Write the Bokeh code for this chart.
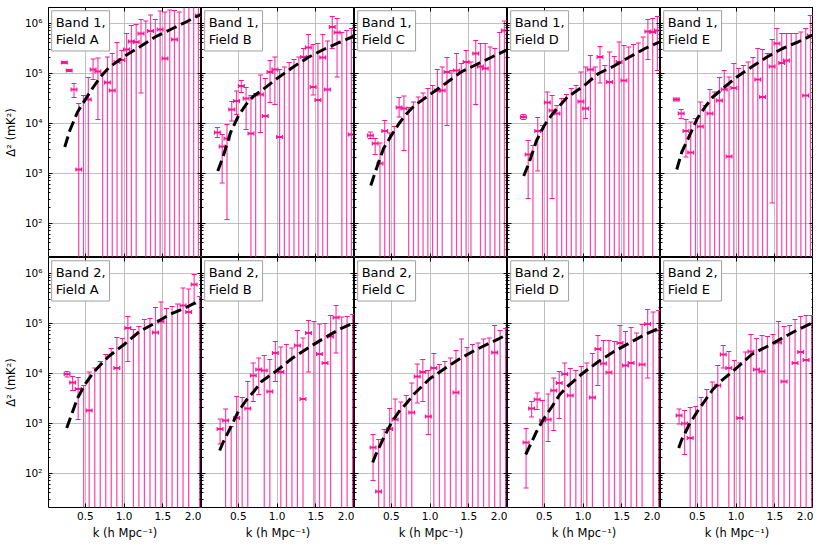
import numpy as np
from bokeh.plotting import figure
from bokeh.layouts import column, row
from bokeh.models import (Range1d, LogAxis, LinearAxis, FixedTicker, Label,
                          CustomJSTickFormatter, PrintfTickFormatter)
from bokeh.embed import file_html
from bokeh.resources import INLINE

FONT = "DejaVu Sans"
PINK = "#ff1493"

FIELDS = ["A", "B", "C", "D", "E"]

# k bin centres (h/Mpc)
K_BAND1 = [0.230, 0.292, 0.354, 0.415, 0.477, 0.539, 0.601, 0.663, 0.724, 0.786,
           0.848, 0.910, 0.972, 1.033, 1.095, 1.157, 1.219, 1.281, 1.342, 1.404,
           1.466, 1.528, 1.590, 1.651, 1.713, 1.775, 1.837, 1.899, 1.960]
K_BAND2 = [0.265, 0.336, 0.408, 0.479, 0.550, 0.622, 0.693, 0.764, 0.835, 0.907,
           0.978, 1.049, 1.121, 1.192, 1.263, 1.335, 1.406, 1.477, 1.548, 1.620,
           1.691, 1.762, 1.834, 1.905, 1.976]
K_ERR = 0.037

# model curve sample points
MODEL_K_BAND1 = [0.235, 0.3, 0.4, 0.5, 0.6, 0.7, 0.8, 1.0, 1.2, 1.4, 1.6, 1.8, 2.0]
MODEL_K_BAND2 = [0.26, 0.3, 0.4, 0.5, 0.6, 0.7, 0.8, 1.0, 1.2, 1.4, 1.6, 1.8, 2.0]

# log10(Delta^2 / mK^2): centre, upper, lower (None = off the bottom / not drawn)
B1_A_C = [5.21, 5.05, 4.67, 3.07, None, 4.47, 5.07, 5.03, None, 4.81, 4.65, 5.22, 5.26, 5.47, 5.63,
          5.62, 5.79, None, 5.84, None, 5.87, 5.29, None, 5.67, None, None, None, None, 6.15]
B1_A_HI = [5.23, 5.07, 4.79, 4.39, 4.55, 4.91, 5.28, 5.30, 4.99, 5.32, 5.39, 5.61, 5.45, 5.79, 5.95,
           5.97, 6.07, 6.04, 6.16, 6.07, 6.24, 6.22, 6.26, 6.25, 6.22, 6.40, 6.40, 6.40, 6.40]
B1_A_LO = [5.19, 5.03, 4.51, None, None, None, 4.87, 4.07, None, None, None, None, None, None, None,
           None, 4.60, None, None, None, None, None, None, None, None, None, None, None, None]
B1_A_M = [3.52, 3.85, 4.22, 4.47, 4.71, 4.93, 5.10, 5.33, 5.52, 5.72, 5.87, 6.02, 6.18]

B1_B_C = [3.81, 3.53, 3.69, 4.27, 4.44, 4.74, 4.49, 3.79, None, 4.57, 4.14, 5.02, 5.07, 3.72, None,
          None, None, None, 5.32, 5.51, 4.72, 4.46, 5.31, 4.67, 5.92, 5.81, None, None, 3.77]
B1_B_HI = [3.91, 3.77, 3.97, 4.43, 4.64, 4.85, 4.71, 4.55, 4.59, 4.96, 4.89, 5.25, 5.32, 5.07, 5.12,
           5.21, 5.27, 5.32, 5.49, 5.77, 5.57, 5.59, 5.77, 5.64, 6.13, 6.09, 5.81, 5.85, 5.89]
B1_B_LO = [3.71, 2.80, 2.07, 4.04, 4.17, 4.61, 3.87, None, None, 3.81, None, 4.41, 4.37, None, None,
           None, None, None, None, None, 4.56, None, None, None, 5.49, 4.92, None, None, None]
B1_B_M = [3.04, 3.31, 3.81, 4.14, 4.37, 4.54, 4.65, 4.89, 5.11, 5.31, 5.47, 5.61, 5.74]

B1_C_C = [3.75, 3.59, 3.19, 3.84, None, None, 4.31, 4.29, None, None, None, None, None, None, 4.65,
          4.65, 5.02, None, 5.05, None, 5.22, None, 5.39, 5.13, 5.09, None, None, None, 5.85]
B1_C_HI = [3.82, 3.69, 3.60, 4.05, 3.80, 3.93, 4.51, 4.54, 4.31, 4.42, 4.52, 4.60, 4.69, 4.75, 5.07,
           5.12, 5.31, 5.05, 5.39, 5.19, 5.45, 5.22, 5.65, 5.59, 5.59, 5.52, 5.49, 5.81, 6.04]
B1_C_LO = [3.69, 3.37, None, None, None, None, 4.12, 3.45, None, None, None, None, None, None, None,
           None, 3.95, None, None, None, None, None, 4.37, None, None, None, None, None, None]
B1_C_M = [2.75, 3.05, 3.49, 3.75, 3.99, 4.19, 4.35, 4.57, 4.79, 5.02, 5.17, 5.32, 5.47]

B1_D_C = [4.12, 3.37, None, 3.84, None, 4.41, 4.25, 4.19, None, None, None, None, 4.43, 4.29, 5.07,
          None, 5.32, None, 4.82, None, 5.22, 4.85, None, None, None, None, 5.83, 5.82, 5.85]
B1_D_HI = [4.17, 3.65, 3.55, 4.11, 3.95, 4.62, 4.55, 4.35, 4.49, 4.57, 4.69, 4.75, 5.02, 5.12, 5.35,
           5.12, 5.53, 5.15, 5.42, 5.33, 5.62, 5.55, 5.52, 5.57, 5.60, 5.72, 6.07, 6.09, 6.13]
B1_D_LO = [4.07, 2.49, None, 3.04, None, None, 2.49, None, None, None, None, None, None, 4.09, None,
           None, 4.80, None, None, None, None, None, None, None, None, None, 5.27, None, 5.05]
B1_D_M = [2.94, 3.19, 3.65, 3.95, 4.17, 4.35, 4.52, 4.73, 4.99, 5.14, 5.32, 5.49, 5.63]

B1_E_C = [4.47, 4.19, 3.84, 3.41, None, 3.93, None, 4.19, None, 4.45, 4.67, 3.33, 4.70, None, None,
          None, None, 4.87, 4.52, None, 5.13, 5.59, 5.20, 5.25, None, None, None, 4.55, 5.75]
B1_E_HI = [4.50, 4.27, 4.07, 4.02, 4.09, 4.42, 4.35, 4.67, 4.62, 4.91, 5.05, 4.92, 5.19, 5.09, 5.15,
           5.22, 5.31, 5.49, 5.47, 5.39, 5.67, 5.89, 5.79, 5.79, 5.79, 5.79, 5.82, 5.89, 6.15]
B1_E_LO = [4.44, 4.09, 3.32, None, None, None, None, None, None, None, None, None, None, None, None,
           None, None, None, None, None, 2.40, None, None, None, None, None, None, None, None]
B1_E_M = [3.07, 3.42, 3.75, 4.09, 4.32, 4.52, 4.65, 4.91, 5.12, 5.32, 5.49, 5.62, 5.77]

B2_A_C = [3.98, 3.81, 3.68, None, 3.25, None, None, None, None, 4.10, None, 4.90, None, None, None,
          None, 4.81, 5.03, None, None, None, 5.35, 5.22, 5.77, None]
B2_A_HI = [4.03, 3.93, 3.91, 3.75, 4.02, 4.10, 4.23, 4.37, 4.49, 4.71, 4.69, 5.13, 4.87, 4.93, 5.07,
           5.09, 5.31, 5.42, 5.29, 5.33, 5.38, 5.70, 5.68, 5.97, 5.53]
B2_A_LO = [3.92, 3.65, 3.07, None, None, None, None, None, None, None, None, 4.23, None, None, None,
           None, None, None, None, None, None, None, None, 5.38, None]
B2_A_M = [2.90, 3.07, 3.50, 3.78, 4.00, 4.17, 4.33, 4.57, 4.83, 5.00, 5.18, 5.31, 5.47]

B2_B_C = [2.88, 3.05, None, 3.10, None, 3.29, 3.95, 4.07, 4.05, 3.63, 4.40, 4.02, None, None, 4.55,
          3.48, 4.80, None, 4.38, 4.20, 4.73, 5.11, None, None, None]
B2_B_HI = [3.08, 3.28, 2.93, 3.53, 3.51, 3.83, 4.20, 4.30, 4.35, 4.27, 4.63, 4.52, 4.57, 4.50, 4.85,
           4.70, 5.05, 5.03, 4.98, 4.99, 5.15, 5.35, 5.12, 5.13, 5.17]
B2_B_LO = [2.58, None, None, None, None, None, 3.43, 3.57, None, None, 3.83, None, None, None, None,
           None, 4.02, None, None, None, None, 4.40, None, None, None]
B2_B_M = [2.45, 2.60, 2.91, 3.23, 3.45, 3.63, 3.83, 4.05, 4.30, 4.50, 4.69, 4.87, 5.01]

B2_C_C = [2.51, 1.63, None, 2.88, 3.07, None, None, 3.21, 3.93, 4.02, 3.13, 4.10, None, None, None,
          3.61, None, None, None, None, None, None, 4.41, None, None]
B2_C_HI = [2.77, 2.67, 2.87, 3.29, 3.48, 3.42, 3.55, 3.80, 4.18, 4.27, 4.05, 4.39, 4.17, 4.23, 4.30,
           4.45, 4.68, 4.51, 4.57, 4.60, 4.68, 4.70, 4.95, 4.85, 4.89]
B2_C_LO = [1.85, None, None, None, None, None, None, None, 3.40, 3.43, 2.77, None, None, None, None,
           None, None, None, None, None, None, None, None, None, None]
B2_C_M = [2.21, 2.37, 2.70, 3.00, 3.23, 3.40, 3.59, 3.89, 4.10, 4.30, 4.47, 4.62, 4.77]

B2_D_C = [2.61, 3.29, 3.47, 3.05, 3.07, 3.65, 3.80, 3.98, 3.55, None, None, None, 3.51, 4.48, 4.19,
          4.01, None, 4.60, 4.15, 4.20, None, 4.17, 4.98, None, 4.85]
B2_D_HI = [2.89, 3.43, 3.60, 3.45, 3.58, 3.90, 4.03, 4.20, 4.09, 4.05, 4.13, 4.20, 4.39, 4.75, 4.65,
           4.65, 4.63, 4.95, 4.83, 4.91, 4.80, 4.97, 5.27, 5.22, 5.25]
B2_D_LO = [1.70, 3.12, 3.27, None, 2.63, 2.85, 3.09, None, None, None, None, None, None, 3.75, None,
           None, None, None, None, None, None, None, 3.90, None, None]
B2_D_M = [2.37, 2.50, 2.83, 3.10, 3.33, 3.57, 3.73, 4.00, 4.23, 4.43, 4.60, 4.77, 4.91]

B2_E_C = [3.15, 2.99, 2.70, None, None, None, None, 3.75, 4.37, 4.10, None, 3.10, None, 4.43, 4.07,
          4.03, None, None, 4.61, 3.83, None, 4.20, 4.42, 4.26, None]
B2_E_HI = [3.28, 3.25, 3.31, 3.33, 3.51, 3.67, 3.82, 4.15, 4.55, 4.43, 4.25, 4.20, 4.42, 4.77, 4.69,
           4.75, 4.73, 4.77, 5.03, 4.93, 4.95, 5.07, 5.13, 5.15, 5.15]
B2_E_LO = [2.98, 2.37, None, None, None, None, None, None, 4.10, None, None, None, None, None, None,
           None, None, None, None, None, None, None, None, None, None]
B2_E_M = [2.50, 2.67, 2.98, 3.23, 3.45, 3.67, 3.83, 4.09, 4.37, 4.53, 4.70, 4.87, 5.01]

Y_TICKS = [1e2, 1e3, 1e4, 1e5, 1e6]
Y_TICK_LABELS = ["10²", "10³", "10⁴", "10⁵", "10⁶"]
X_TICKS = [0.5, 1.0, 1.5, 2.0]
Y_LOG_MIN, Y_LOG_MAX = 1.31, 6.31
Y_FLOOR = 1.0  # lower end for bars that run off the bottom

PANELS = {
    ("1", "A"): (B1_A_C, B1_A_HI, B1_A_LO, B1_A_M),
    ("1", "B"): (B1_B_C, B1_B_HI, B1_B_LO, B1_B_M),
    ("1", "C"): (B1_C_C, B1_C_HI, B1_C_LO, B1_C_M),
    ("1", "D"): (B1_D_C, B1_D_HI, B1_D_LO, B1_D_M),
    ("1", "E"): (B1_E_C, B1_E_HI, B1_E_LO, B1_E_M),
    ("2", "A"): (B2_A_C, B2_A_HI, B2_A_LO, B2_A_M),
    ("2", "B"): (B2_B_C, B2_B_HI, B2_B_LO, B2_B_M),
    ("2", "C"): (B2_C_C, B2_C_HI, B2_C_LO, B2_C_M),
    ("2", "D"): (B2_D_C, B2_D_HI, B2_D_LO, B2_D_M),
    ("2", "E"): (B2_E_C, B2_E_HI, B2_E_LO, B2_E_M),
}

minor = [m * 10.0 ** e for e in range(1, 7) for m in range(2, 10)]


def style_axis(ax, labels):
    ax.major_tick_in = 4
    ax.major_tick_out = 0
    ax.minor_tick_in = 2
    ax.minor_tick_out = 0
    ax.axis_line_color = None
    ax.major_tick_line_color = "black"
    ax.minor_tick_line_color = "black"
    ax.major_label_text_font = FONT
    ax.major_label_text_color = "black"
    ax.axis_label_text_font = FONT
    ax.axis_label_text_font_style = "normal"
    ax.axis_label_text_color = "black"
    if labels:
        ax.major_label_text_font_size = "10.5px"
    else:
        ax.formatter = CustomJSTickFormatter(code="return '';")
        ax.major_label_text_font_size = "1px"
        ax.major_label_text_alpha = 0
        ax.major_label_standoff = 0


def make_panel(band, field, first_col, bottom_row):
    c, hi, lo, mv = PANELS[(band, field)]
    kk = K_BAND1 if band == "1" else K_BAND2
    mk = MODEL_K_BAND1 if band == "1" else MODEL_K_BAND2

    p = figure(frame_width=153, frame_height=250,
               x_range=Range1d(0.025, 2.0),
               y_range=Range1d(10 ** Y_LOG_MIN, 10 ** Y_LOG_MAX),
               y_axis_type="log", output_backend="svg", toolbar_location=None,
               min_border_left=40 if first_col else 0,
               min_border_right=0,
               min_border_top=0 if bottom_row else 7,
               min_border_bottom=32 if bottom_row else 0)
    p.outline_line_color = "black"
    p.outline_line_width = 1
    p.background_fill_color = "white"
    p.border_fill_color = "white"

    yt = FixedTicker(ticks=Y_TICKS, minor_ticks=minor)
    xt = FixedTicker(ticks=X_TICKS)
    overrides = {t: s for t, s in zip(Y_TICKS, Y_TICK_LABELS)}

    p.yaxis.ticker = yt
    p.xaxis.ticker = xt
    for ax in p.yaxis:
        style_axis(ax, first_col)
        if first_col:
            ax.major_label_overrides = overrides
            ax.major_label_standoff = 6
            ax.axis_label = "Δ² (mK²)"
            ax.axis_label_text_font_size = "11.5px"
            ax.axis_label_standoff = 4
    for ax in p.xaxis:
        style_axis(ax, bottom_row)
        if bottom_row:
            ax.formatter = PrintfTickFormatter(format="%.1f")
            ax.major_label_standoff = 4
            ax.axis_label = "k (h Mpc⁻¹)"
            ax.axis_label_text_font_size = "11.5px"
            ax.axis_label_standoff = 3

    ra = LogAxis(ticker=FixedTicker(ticks=Y_TICKS, minor_ticks=minor))
    style_axis(ra, False)
    p.add_layout(ra, "right")
    ta = LinearAxis(ticker=FixedTicker(ticks=X_TICKS))
    style_axis(ta, False)
    p.add_layout(ta, "above")

    p.xgrid.ticker = xt
    p.ygrid.ticker = yt
    for g in (p.xgrid, p.ygrid):
        g.grid_line_color = "#b0b0b0"
        g.grid_line_width = 0.8
    p.ygrid.minor_grid_line_color = None

    # vertical error bars
    x_v = list(kk)
    y_hi = [10 ** h for h in hi]
    y_lo = [10 ** l if l is not None else Y_FLOOR for l in lo]
    p.segment(x0=x_v, y0=y_lo, x1=x_v, y1=y_hi, line_color=PINK, line_width=1.2, line_alpha=0.8)
    p.scatter(x=x_v, y=y_hi, marker="dash", size=5, line_color=PINK, line_width=1.2)
    lo_k = [k for k, l in zip(kk, lo) if l is not None]
    lo_y = [10 ** l for l in lo if l is not None]
    p.scatter(x=lo_k, y=lo_y, marker="dash", size=5, line_color=PINK, line_width=1.2)

    # points with horizontal bars
    ck = [k for k, v in zip(kk, c) if v is not None]
    cy = [10 ** v for v in c if v is not None]
    p.segment(x0=[k - K_ERR for k in ck], y0=cy, x1=[k + K_ERR for k in ck], y1=cy,
              line_color=PINK, line_width=2.2)
    p.scatter(x=[k - K_ERR for k in ck] + [k + K_ERR for k in ck], y=cy + cy,
              marker="dash", angle=np.pi / 2, size=4, line_color=PINK, line_width=1.2)

    # model curve
    p.line(mk, [10 ** v for v in mv], line_color="black", line_width=3, line_dash="11 5")

    lab = Label(x=0.066, y=10 ** 6.245, text=f"Band {band},\nField {field}",
                text_font=FONT, text_font_size="13px", text_color="black",
                text_align="left", text_baseline="top", text_line_height=1.15,
                border_line_color="#a0a0a0", border_line_width=1,
                background_fill_color="white", background_fill_alpha=0.9,
                padding=4)
    p.add_layout(lab)
    return p


rows = []
for r, band in enumerate(["1", "2"]):
    figs = [make_panel(band, f, i == 0, r == 1) for i, f in enumerate(FIELDS)]
    rows.append(row(*figs))
layout = column(*rows)

open("out.html", "w").write(file_html(layout, INLINE))
